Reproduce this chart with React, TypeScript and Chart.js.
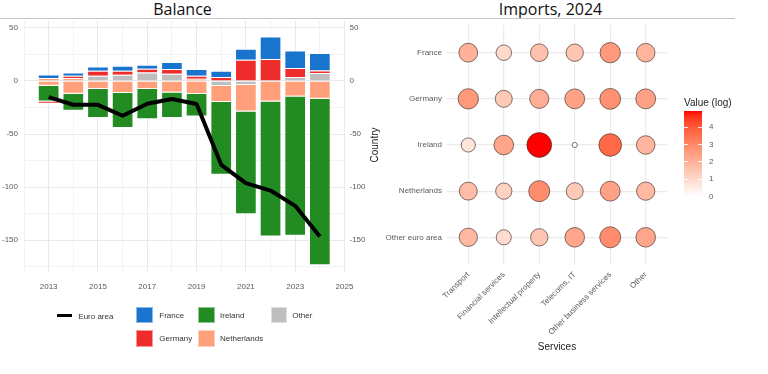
import React, { useEffect, useRef } from 'react';
import { Chart, registerables } from 'chart.js';

Chart.register(...registerables);

// ---------- Left panel data: Balance ----------
const years = [2013, 2014, 2015, 2016, 2017, 2018, 2019, 2020, 2021, 2022, 2023, 2024];
const franceBalance = [3.4, 3.1, 4.1, 4.7, 3.8, 6.6, 6.3, 5.9, 10.4, 21.3, 16.6, 16.4];
const germanyBalance = [-2.2, 2.2, 4.7, 3.8, 3.5, 4.4, 2.8, 3.7, 20.0, 20.7, 8.5, 2.4];
const irelandBalance = [-14.8, -16, -27.3, -33, -28.3, -24, -21.1, -68.6, -96.8, -127.4, -131.4, -156.9];
const netherlandsBalance = [-4.5, -12.1, -7.7, -11.4, -7.7, -11, -12.4, -15.2, -25, -19.3, -14.6, -16.8];
const netherlandsSurplusPart = [2.7, 2.7, 0, 0, 0, 0, 2.1, 0, 0, 0, 0, 0];
const otherBalance = [0, 0, 4.9, 5.8, 8.0, 6.8, 0, -4.7, -3.8, 0, 3.7, 7.5];
const euroAreaBalance = [-15.2, -22.4, -22.5, -32.8, -21.5, -17, -21.8, -79, -96.3, -103.3, -117.7, -146.7];
const xGridYears = [2012, 2013, 2014, 2015, 2016, 2017, 2018, 2019, 2020, 2021, 2022, 2023, 2024, 2025];
const yGridValues = [-175, -150, -125, -100, -75, -50, -25, 0, 25, 50];

// ---------- Right panel data: Imports, 2024 (log values) ----------
const countries = ['France', 'Germany', 'Ireland', 'Netherlands', 'Other euro area'];
const services = ['Transport', 'Financial services', 'Intellectual property', 'Telecoms, IT', 'Other business services', 'Other'];
const franceImports = [2.0, 1.0, 1.6, 1.5, 2.6, 1.9];
const germanyImports = [2.6, 1.4, 2.1, 2.4, 2.8, 2.4];
const irelandImports = [0.7, 2.3, 4.96, 0.0, 3.7, 1.9];
const netherlandsImports = [1.7, 1.2, 2.9, 1.4, 2.4, 1.8];
const otherEuroImports = [1.8, 0.9, 1.5, 2.3, 2.9, 2.3];
const colorbarTicks = [0, 1, 2, 3, 4];

const importRows = [franceImports, germanyImports, irelandImports, netherlandsImports, otherEuroImports];

const COLORS = {
  France: '#1874CD',
  Germany: '#EE2C2C',
  Ireland: '#228B22',
  Netherlands: '#FFA07A',
  Other: '#BEBEBE',
};

const FONT = "'Liberation Sans', Arial, sans-serif";
const TITLE_FONT = "'Open Sans', 'Noto Sans', sans-serif";
const TICK_COLOR = '#5a5a5a';

// Lab interpolation white -> red (like ggplot's scale_fill_gradient)
function labToRgb(L: number, a: number, b: number): number[] {
  let y = (L + 16) / 116;
  let x = a / 500 + y;
  let z = y - b / 200;
  const f = (t: number) => (t * t * t > 0.008856 ? t * t * t : (t - 16 / 116) / 7.787);
  x = 0.95047 * f(x);
  y = 1.0 * f(y);
  z = 1.08883 * f(z);
  const r = x * 3.2406 + y * -1.5372 + z * -0.4986;
  const g = x * -0.9689 + y * 1.8758 + z * 0.0415;
  const bl = x * 0.0557 + y * -0.204 + z * 1.057;
  const gam = (c: number) => (c > 0.0031308 ? 1.055 * Math.pow(c, 1 / 2.4) - 0.055 : 12.92 * c);
  return [r, g, bl].map((c) => Math.round(Math.max(0, Math.min(1, gam(c))) * 255));
}
function rampColor(t: number): string {
  const L = 100 + (53.2408 - 100) * t;
  const A = 80.0925 * t;
  const B = 67.2032 * t;
  const [r, g, b] = labToRgb(L, A, B);
  return `rgb(${r},${g},${b})`;
}

const allImports = importRows.flat();
const vMin = Math.min(...allImports);
const vMax = Math.max(...allImports);
const normT = (v: number) => (v - vMin) / (vMax - vMin);
const bubbleRadius = (v: number) => 2.6 + 9.8 * Math.pow(normT(v), 0.4);

export default function App() {
  const leftRef = useRef<HTMLCanvasElement>(null);
  const rightRef = useRef<HTMLCanvasElement>(null);

  useEffect(() => {
    const barSeries = [
      { label: 'Other', values: otherBalance, color: COLORS.Other },
      { label: 'Netherlands', values: netherlandsBalance, color: COLORS.Netherlands },
      { label: 'Netherlands+', values: netherlandsSurplusPart, color: COLORS.Netherlands },
      { label: 'Ireland', values: irelandBalance, color: COLORS.Ireland },
      { label: 'Germany', values: germanyBalance, color: COLORS.Germany },
      { label: 'France', values: franceBalance, color: COLORS.France },
    ];
    const yMin = -181;
    const yMax = 56.5;
    const yTicksCommon = {
      font: { family: FONT, size: 8 },
      color: TICK_COLOR,
      callback: (v: any) => (Number(v) % 50 === 0 ? String(v) : ''),
      autoSkip: false,
    };

    const left = new Chart(leftRef.current!, {
      type: 'bar',
      data: {
        datasets: [
          ...barSeries.map((s) => ({
            type: 'bar' as const,
            label: s.label,
            data: years.map((yr, i) => ({ x: yr, y: s.values[i] })),
            backgroundColor: s.color,
            borderColor: 'rgba(255,255,255,0.55)',
            borderWidth: 1,
            categoryPercentage: 1,
            barPercentage: 0.88,
            stack: 'bars',
            order: 1,
          })),
          {
            type: 'line' as const,
            label: 'Euro area',
            data: years.map((yr, i) => ({ x: yr, y: euroAreaBalance[i] })),
            borderColor: '#000',
            backgroundColor: '#000',
            borderWidth: 4,
            pointRadius: 0,
            borderJoinStyle: 'round',
            borderCapStyle: 'butt',
            stack: 'ea',
            order: 0,
          },
        ] as any,
      },
      options: {
        animation: false,
        responsive: false,
        maintainAspectRatio: false,
        layout: { padding: { top: 21, left: 0, right: 0, bottom: 0 } },
        plugins: { legend: { display: false }, tooltip: { enabled: false } },
        scales: {
          x: {
            type: 'linear',
            min: 2012,
            max: 2025,
            stacked: true,
            offset: false,
            afterBuildTicks: (s: any) => {
              s.ticks = xGridYears.map((v) => ({ value: v }));
            },
            afterFit: (s: any) => {
              s.height = 101;
            },
            grid: {
              offset: false,
              drawTicks: false,
              color: (ctx: any) => (ctx.tick && ctx.tick.value % 2 !== 0 ? '#e9e9e9' : '#f3f3f3'),
              lineWidth: 1,
            },
            border: { display: false },
            ticks: {
              autoSkip: false,
              maxRotation: 0,
              minRotation: 0,
              padding: 9,
              font: { family: FONT, size: 8 },
              color: TICK_COLOR,
              callback: (v: any) => (Number(v) % 2 !== 0 ? String(v) : ''),
            },
          },
          y: {
            type: 'linear',
            position: 'left',
            stacked: true,
            min: yMin,
            max: yMax,
            afterBuildTicks: (s: any) => {
              s.ticks = yGridValues.map((v) => ({ value: v }));
            },
            afterFit: (s: any) => {
              s.width = 24;
            },
            grid: {
              drawTicks: false,
              color: (ctx: any) => (ctx.tick && ctx.tick.value % 50 === 0 ? '#e9e9e9' : '#f3f3f3'),
              lineWidth: 1,
            },
            border: { display: false },
            ticks: { ...yTicksCommon, padding: 6 },
          },
          y2: {
            type: 'linear',
            position: 'right',
            min: yMin,
            max: yMax,
            afterBuildTicks: (s: any) => {
              s.ticks = yGridValues.map((v) => ({ value: v }));
            },
            afterFit: (s: any) => {
              s.width = 20.5;
            },
            grid: { display: false, drawTicks: false },
            border: { display: false },
            ticks: { ...yTicksCommon, padding: 5 },
          },
        },
      } as any,
    });

    const points: any[] = [];
    const fills: string[] = [];
    importRows.forEach((row, i) => {
      row.forEach((v, j) => {
        points.push({ x: j, y: i, r: bubbleRadius(v) });
        fills.push(rampColor(normT(v)));
      });
    });

    const right = new Chart(rightRef.current!, {
      type: 'bubble',
      data: {
        datasets: [
          {
            label: 'Imports',
            data: points,
            backgroundColor: fills,
            borderColor: 'rgba(70,50,45,0.85)',
            borderWidth: 0.8,
          },
        ],
      },
      options: {
        animation: false,
        responsive: false,
        maintainAspectRatio: false,
        layout: { padding: { top: 25, right: 101, bottom: 0, left: 0 } },
        plugins: { legend: { display: false }, tooltip: { enabled: false } },
        scales: {
          x: {
            type: 'linear',
            min: -0.6,
            max: 5.6,
            afterBuildTicks: (s: any) => {
              s.ticks = services.map((_, i) => ({ value: i }));
            },
            afterFit: (s: any) => {
              s.height = 109;
            },
            grid: { color: '#ebebeb', lineWidth: 1.2, drawTicks: false },
            border: { display: false },
            ticks: {
              autoSkip: false,
              minRotation: 45,
              maxRotation: 45,
              padding: 5,
              font: { family: FONT, size: 8 },
              color: TICK_COLOR,
              callback: (v: any) => services[Number(v)] ?? '',
            },
            title: {
              display: true,
              text: 'Services',
              font: { family: FONT, size: 10 },
              color: '#222',
              padding: { top: 0, bottom: 21 },
            },
          },
          y: {
            type: 'linear',
            reverse: true,
            min: -0.6,
            max: 4.6,
            afterBuildTicks: (s: any) => {
              s.ticks = countries.map((_, i) => ({ value: i }));
            },
            afterFit: (s: any) => {
              s.width = 82;
            },
            grid: { color: '#ebebeb', lineWidth: 1.2, drawTicks: false },
            border: { display: false },
            ticks: {
              autoSkip: false,
              padding: 5,
              font: { family: FONT, size: 8 },
              color: TICK_COLOR,
              callback: (v: any) => countries[Number(v)] ?? '',
            },
            title: {
              display: true,
              text: 'Country',
              font: { family: FONT, size: 10 },
              color: '#222',
              padding: { top: 4, bottom: 0 },
            },
          },
        },
      } as any,
    });

    return () => {
      left.destroy();
      right.destroy();
    };
  }, []);

  // colorbar geometry
  const cbTop = 110.7;
  const cbBottom = 196.5;
  const cbLeft = 684;
  const cbWidth = 17.5;
  const cbPx = (v: number) => cbBottom - ((v - vMin) / (vMax - vMin)) * (cbBottom - cbTop);
  const stops: string[] = [];
  for (let k = 0; k <= 20; k++) {
    const t = k / 20;
    stops.push(`${rampColor(t)} ${(t * 100).toFixed(1)}%`);
  }

  const legendText = (text: string, left: number, cy: number) => (
    <div
      key={text}
      style={{
        position: 'absolute',
        left,
        top: cy - 6,
        height: 12,
        lineHeight: '12px',
        fontFamily: FONT,
        fontSize: 8,
        color: '#333',
        whiteSpace: 'nowrap',
      }}
    >
      {text}
    </div>
  );
  const legendBox = (color: string, left: number, top: number, key: string) => (
    <div
      key={key}
      style={{ position: 'absolute', left, top, width: 16.5, height: 16.5, background: color, boxSizing: 'border-box', border: '1px solid rgba(255,255,255,0.5)' }}
    />
  );

  return (
    <div style={{ position: 'absolute', left: 0, top: 0, width: 768, height: 374, background: '#fff', overflow: 'hidden' }}>
      {/* titles */}
      <div style={{ position: 'absolute', left: 0, width: 365, top: -2.5, textAlign: 'center', fontFamily: TITLE_FONT, fontSize: 16, color: '#111' }}>Balance</div>
      <div style={{ position: 'absolute', left: 365, width: 371, top: -2.5, textAlign: 'center', fontFamily: TITLE_FONT, fontSize: 16, color: '#111' }}>Imports, 2024</div>
      <div style={{ position: 'absolute', left: 0, top: 17.5, width: 735, height: 1.5, background: '#c4c4c4' }} />

      <canvas ref={leftRef} width={365} height={374} style={{ position: 'absolute', left: 0, top: 0, width: 365, height: 374 }} />
      <canvas ref={rightRef} width={403} height={374} style={{ position: 'absolute', left: 365, top: 0, width: 403, height: 374 }} />

      {/* left legend */}
      <div style={{ position: 'absolute', left: 57.3, top: 313.5, width: 14.4, height: 3.2, background: '#000' }} />
      {legendText('Euro area', 78.3, 316.5)}
      {legendBox(COLORS.France, 136, 306.7, 'bf')}
      {legendText('France', 159.3, 316)}
      {legendBox(COLORS.Germany, 136, 330, 'bg')}
      {legendText('Germany', 159.3, 339)}
      {legendBox(COLORS.Ireland, 198.3, 306.7, 'bi')}
      {legendText('Ireland', 220, 316)}
      {legendBox(COLORS.Netherlands, 198.3, 330, 'bn')}
      {legendText('Netherlands', 220, 339)}
      {legendBox(COLORS.Other, 270.7, 306.7, 'bo')}
      {legendText('Other', 292.3, 316)}

      {/* colorbar legend */}
      <div style={{ position: 'absolute', left: cbLeft, top: 95.5, height: 13, lineHeight: '13px', fontFamily: FONT, fontSize: 10, color: '#222', whiteSpace: 'nowrap' }}>Value (log)</div>
      <div
        style={{
          position: 'absolute',
          left: cbLeft,
          top: cbTop,
          width: cbWidth,
          height: cbBottom - cbTop,
          background: `linear-gradient(to top, ${stops.join(', ')})`,
        }}
      />
      {colorbarTicks.map((v) => (
        <React.Fragment key={'cb' + v}>
          <div style={{ position: 'absolute', left: cbLeft, top: cbPx(v) - 0.5, width: 3.5, height: 1, background: 'rgba(255,255,255,0.9)' }} />
          <div style={{ position: 'absolute', left: cbLeft + cbWidth - 3.5, top: cbPx(v) - 0.5, width: 3.5, height: 1, background: 'rgba(255,255,255,0.9)' }} />
          <div style={{ position: 'absolute', left: 709, top: cbPx(v) - 6, height: 12, lineHeight: '12px', fontFamily: FONT, fontSize: 8, color: TICK_COLOR }}>{String(v)}</div>
        </React.Fragment>
      ))}
    </div>
  );
}
